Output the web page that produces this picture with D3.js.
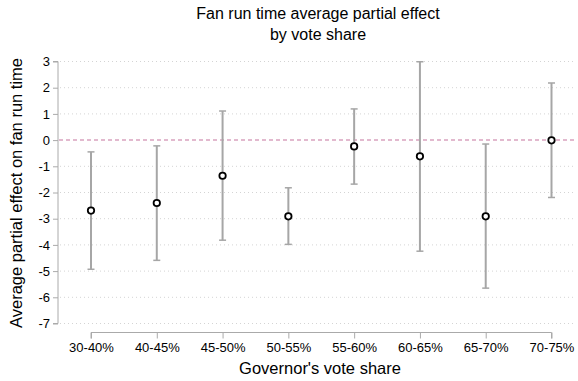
<!DOCTYPE html>
<html>
<head>
<meta charset="utf-8">
<script src="https://cdn.jsdelivr.net/npm/d3@7"></script>
<style>
  body { margin: 0; background: #fff; }
  svg { display: block; font-family: "Liberation Sans", Arial, sans-serif; }
</style>
</head>
<body>
<svg id="chart" width="578" height="381"></svg>
<script>
// Average partial effect estimates with confidence bounds, by vote-share bin
const categories = ["30-40%", "40-45%", "45-50%", "50-55%", "55-60%", "60-65%", "65-70%", "70-75%"];
const estimates  = [-2.69, -2.40, -1.36, -2.91, -0.24, -0.62, -2.91, -0.01];
const lowerBound = [-4.93, -4.59, -3.82, -3.98, -1.68, -4.24, -5.65, -2.19];
const upperBound = [-0.45, -0.22, 1.11, -1.82, 1.19, 2.99, -0.15, 2.18];
const yTicks = [3, 2, 1, 0, -1, -2, -3, -4, -5, -6, -7];

const svg = d3.select("#chart");
const plotLeft = 58, plotRight = 576, plotTop = 61.5, plotBottom = 323.5;
const font = "Liberation Sans, Arial, sans-serif";

const y = d3.scaleLinear().domain([-7, 3]).range([plotBottom, plotTop]);
const x = d3.scalePoint().domain(categories).range([91, 551.5]);

// Title
const title = svg.append("text")
  .attr("x", 318).attr("text-anchor", "middle")
  .attr("font-size", 16).attr("fill", "#000");
title.append("tspan").attr("x", 318).attr("y", 19).text("Fan run time average partial effect");
title.append("tspan").attr("x", 318).attr("y", 40).text("by vote share");

// Horizontal dotted gridlines
svg.append("g").selectAll("line")
  .data(yTicks.filter(d => d !== 0))
  .join("line")
  .attr("x1", plotLeft + 2).attr("x2", plotRight)
  .attr("y1", d => y(d)).attr("y2", d => y(d))
  .attr("stroke", "#d4d4d4").attr("stroke-width", 1)
  .attr("stroke-dasharray", "1,3");

// Reference line at zero
svg.append("line")
  .attr("x1", plotLeft + 1).attr("x2", plotRight)
  .attr("y1", y(0)).attr("y2", y(0))
  .attr("stroke", "#d9a3bf").attr("stroke-width", 1.5)
  .attr("stroke-dasharray", "4,3");

// Y axis
const yAxis = svg.append("g")
  .attr("transform", `translate(${plotLeft},0)`)
  .call(d3.axisLeft(y).tickValues(yTicks).tickSize(5).tickPadding(3).tickFormat(d => String(d)));
yAxis.select(".domain").attr("stroke", "#aaa").attr("d", `M-5,${y(3)}H0V${y(-7)}H-5`);
yAxis.selectAll(".tick line").attr("stroke", "#aaa");
yAxis.selectAll(".tick text").attr("font-size", 13).attr("fill", "#000").attr("font-family", font);

// X axis
const xAxis = svg.append("g")
  .attr("transform", `translate(0,332.5)`)
  .call(d3.axisBottom(x).tickSize(6).tickPadding(4));
xAxis.select(".domain").attr("stroke", "#aaa").attr("d", `M${x(categories[0])},6V0H${x(categories[7])}V6`);
xAxis.selectAll(".tick line").attr("stroke", "#aaa");
xAxis.selectAll(".tick text").attr("font-size", 13).attr("fill", "#000").attr("font-family", font);

// Axis titles
svg.append("text")
  .attr("x", 320).attr("y", 374)
  .attr("text-anchor", "middle").attr("font-size", 16.5).attr("fill", "#000")
  .text("Governor's vote share");
svg.append("text")
  .attr("transform", `translate(22,193) rotate(-90)`)
  .attr("text-anchor", "middle").attr("font-size", 16.5).attr("fill", "#000")
  .text("Average partial effect on fan run time");

// Error bars
const rows = categories.map((c, i) => ({ c, est: estimates[i], lo: lowerBound[i], hi: upperBound[i] }));
const bars = svg.append("g").selectAll("g").data(rows).join("g");
bars.append("line")
  .attr("x1", d => x(d.c)).attr("x2", d => x(d.c))
  .attr("y1", d => y(d.lo)).attr("y2", d => y(d.hi))
  .attr("stroke", "#a6a6a6").attr("stroke-width", 2);
bars.append("line")
  .attr("x1", d => x(d.c) - 3.5).attr("x2", d => x(d.c) + 3.5)
  .attr("y1", d => y(d.hi)).attr("y2", d => y(d.hi))
  .attr("stroke", "#a6a6a6").attr("stroke-width", 1.5);
bars.append("line")
  .attr("x1", d => x(d.c) - 3.5).attr("x2", d => x(d.c) + 3.5)
  .attr("y1", d => y(d.lo)).attr("y2", d => y(d.lo))
  .attr("stroke", "#a6a6a6").attr("stroke-width", 1.5);

// Point estimates
bars.append("circle")
  .attr("cx", d => x(d.c)).attr("cy", d => y(d.est))
  .attr("r", 3.2)
  .attr("fill", "#fff").attr("stroke", "#000").attr("stroke-width", 1.8);
</script>
</body>
</html>
